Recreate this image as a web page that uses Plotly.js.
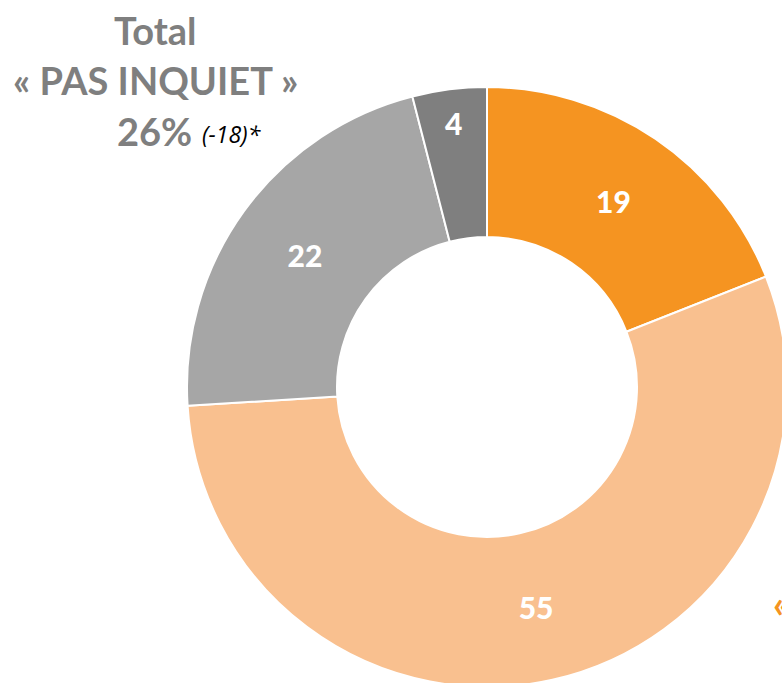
<!DOCTYPE html>
<html>
<head>
<meta charset="utf-8">
<script src="https://cdn.plot.ly/plotly-3.0.1.min.js"></script>
<style>
html,body{margin:0;padding:0;overflow:hidden;background:#fff;width:782px;height:683px;}
#chart{width:974px;height:774px;}
</style>
</head>
<body>
<div id="chart"></div>
<script>
const categories = ["Très inquiet", "Plutôt inquiet", "Plutôt pas inquiet", "Pas du tout inquiet"];
const values = [19, 55, 22, 4];
const labelsText = ["19", "55", "22", "4"];
const colors = ["#F59421", "#F9C08F", "#A6A6A6", "#7F7F7F"];
const totalPasInquiet = "26%";
const evolution = "(-18)*";

const W = 974, H = 774;
const px = x => x / W;
const py = y => 1 - y / H;

const trace = {
  type: "pie",
  labels: categories,
  values: values,
  text: labelsText,
  textinfo: "text",
  textposition: "inside",
  insidetextorientation: "horizontal",
  hole: 0.5,
  sort: false,
  direction: "clockwise",
  rotation: 0,
  marker: {colors: colors, line: {color: "#ffffff", width: 2}},
  textfont: {family: "Lato, 'Open Sans', sans-serif", size: 30, color: "#ffffff", weight: 900},
  domain: {x: [px(187), px(787)], y: [py(687), py(87)]},
  showlegend: false,
  hoverinfo: "label+value"
};

const font = {family: "Lato, 'Open Sans', sans-serif", size: 38, color: "#7F7F7F", weight: 700};

const layout = {
  width: W, height: H,
  margin: {l: 0, r: 0, t: 0, b: 0},
  paper_bgcolor: "#ffffff",
  showlegend: false,
  annotations: [
    {xref: "paper", yref: "paper", x: px(155), y: py(30), xanchor: "center", yanchor: "middle",
     text: "Total", showarrow: false, font: font},
    {xref: "paper", yref: "paper", x: px(155), y: py(80), xanchor: "center", yanchor: "middle",
     text: "« PAS INQUIET »", showarrow: false, font: font},
    {xref: "paper", yref: "paper", x: px(115), y: py(131), xanchor: "left", yanchor: "middle",
     text: totalPasInquiet, showarrow: false, font: font},
    {xref: "paper", yref: "paper", x: px(200), y: py(134), xanchor: "left", yanchor: "middle",
     text: "<i>" + evolution + "</i>", showarrow: false,
     font: {family: "'Open Sans', Lato, sans-serif", size: 23, color: "#000000", weight: 400}},
    {xref: "paper", yref: "paper", x: px(771), y: py(603), xanchor: "left", yanchor: "middle",
     text: "« INQUIET »", showarrow: false, font: {family: "Lato, 'Open Sans', sans-serif", size: 38, color: "#F59421", weight: 700}}
  ]
};

Plotly.newPlot("chart", [trace], layout, {staticPlot: true, displayModeBar: false});
</script>
</body>
</html>
